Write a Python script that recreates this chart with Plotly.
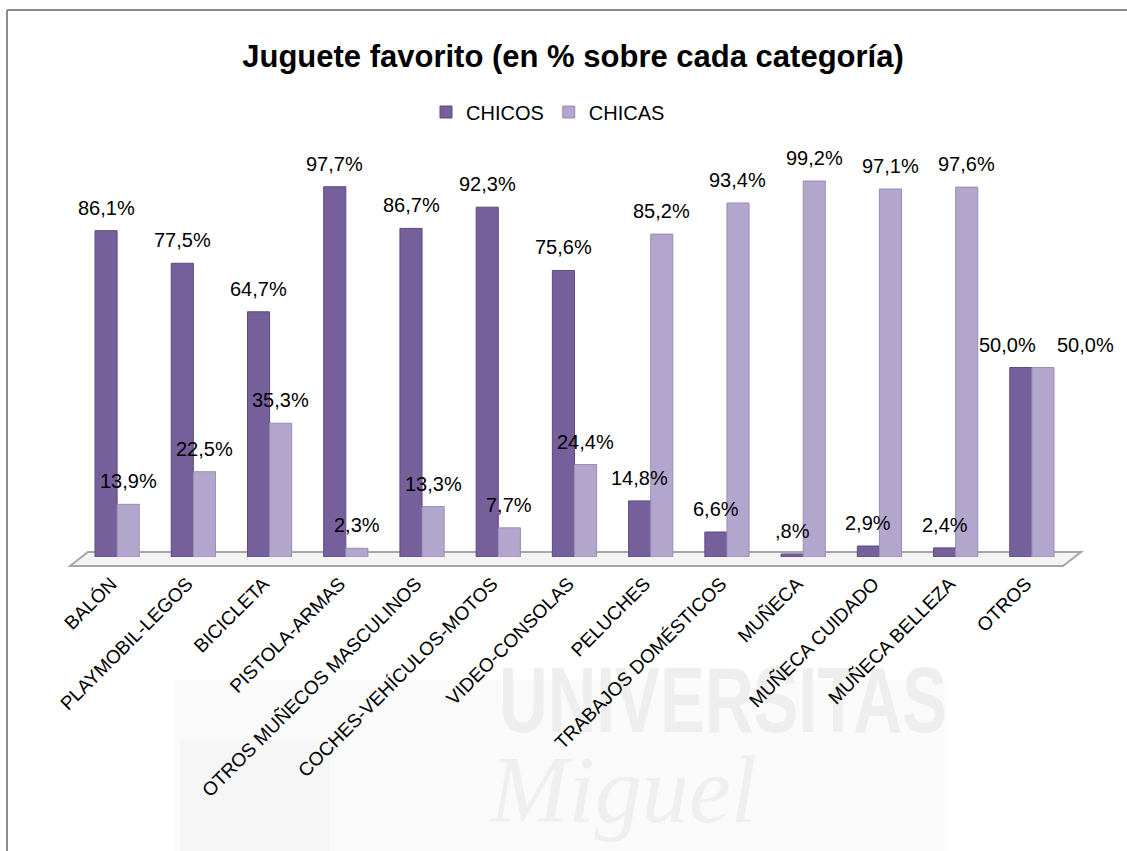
import base64
import plotly.graph_objects as go

categorias = ["BALÓN", "PLAYMOBIL-LEGOS", "BICICLETA", "PISTOLA-ARMAS",
              "OTROS MUÑECOS MASCULINOS", "COCHES-VEHÍCULOS-MOTOS", "VIDEO-CONSOLAS",
              "PELUCHES", "TRABAJOS DOMÉSTICOS", "MUÑECA", "MUÑECA CUIDADO",
              "MUÑECA BELLEZA", "OTROS"]
chicos = [86.1, 77.5, 64.7, 97.7, 86.7, 92.3, 75.6, 14.8, 6.6, 0.8, 2.9, 2.4, 50.0]
chicas = [13.9, 22.5, 35.3, 2.3, 13.3, 7.7, 24.4, 85.2, 93.4, 99.2, 97.1, 97.6, 50.0]
etiquetas_chicos = ["86,1%", "77,5%", "64,7%", "97,7%", "86,7%", "92,3%", "75,6%",
                    "14,8%", "6,6%", ",8%", "2,9%", "2,4%", "50,0%"]
etiquetas_chicas = ["13,9%", "22,5%", "35,3%", "2,3%", "13,3%", "7,7%", "24,4%",
                    "85,2%", "93,4%", "99,2%", "97,1%", "97,6%", "50,0%"]

W, H = 1127, 851
ML, MR, MT, MB = 79, 57, 178, 294
PW, PH = W - ML - MR, H - MT - MB

def px(x):
    return (x - ML) / PW

def py(y):
    return (H - MB - y) / PH

DARK = "#76609B"
LIGHT = "#B3A6CD"
LABEL_FONT = dict(family="Liberation Sans, Arial", size=20, color="#000")

fig = go.Figure()
fig.add_trace(go.Bar(name="CHICOS", x=categorias, y=chicos, marker_color=DARK,
                     marker_line=dict(color="#5E4A80", width=1)))
fig.add_trace(go.Bar(name="CHICAS", x=categorias, y=chicas, marker_color=LIGHT,
                     marker_line=dict(color="#9A8CB6", width=1)))

annotations = []
for i, (c, v, t) in enumerate(zip(categorias, chicos, etiquetas_chicos)):
    dx = -24 if i == len(categorias) - 1 else -11
    annotations.append(dict(x=c, y=v, xref="x", yref="y", text=t, showarrow=False,
                            xshift=dx, yshift=10, yanchor="bottom", font=LABEL_FONT))
for i, (c, v, t) in enumerate(zip(categorias, chicas, etiquetas_chicas)):
    dx = 54 if i == len(categorias) - 1 else 11
    annotations.append(dict(x=c, y=v, xref="x", yref="y", text=t, showarrow=False,
                            xshift=dx, yshift=10, yanchor="bottom", font=LABEL_FONT))

# faint watermark drawn below everything via an inline SVG image
svg = f'''<svg xmlns="http://www.w3.org/2000/svg" width="{W}" height="{H}">
<rect x="175" y="680" width="772" height="171" fill="#fafafa"/>
<rect x="180" y="740" width="150" height="111" fill="#f6f6f6"/>
<text x="499" y="732" textLength="448" lengthAdjust="spacingAndGlyphs" font-family="Liberation Sans" font-weight="bold" font-size="92" fill="#eeeeee">UNIVERSITAS</text>
<text x="490" y="822" textLength="267" lengthAdjust="spacingAndGlyphs" font-family="Liberation Serif" font-style="italic" font-size="96" fill="#efefef">Miguel</text>
</svg>'''
src = "data:image/svg+xml;base64," + base64.b64encode(svg.encode("utf-8")).decode("ascii")

shapes = [
    dict(type="path", xref="paper", yref="paper",
         path=f"M {px(88)} {py(552)} L {px(1081)} {py(552)} L {px(1063)} {py(566)} L {px(70)} {py(566)} Z",
         fillcolor="#F4F4F4", line=dict(color="#A6A6A6", width=2), layer="below"),
    dict(type="line", xref="paper", yref="paper", x0=px(7), x1=px(7), y0=py(10), y1=py(851),
         line=dict(color="#8C8C8C", width=2)),
    dict(type="line", xref="paper", yref="paper", x0=px(7), x1=px(1127), y0=py(10), y1=py(10),
         line=dict(color="#8C8C8C", width=2)),
]

fig.update_layout(
    width=W, height=H,
    margin=dict(l=ML, r=MR, t=MT, b=MB, autoexpand=False),
    paper_bgcolor="white", plot_bgcolor="rgba(0,0,0,0)",
    barmode="group", bargap=0.42, bargroupgap=0,
    title=dict(text="<b>Juguete favorito (en % sobre cada categoría)</b>",
               x=573 / W, y=1 - 56 / H, xanchor="center", yanchor="middle",
               font=dict(family="Liberation Sans, Arial", size=31, color="#000")),
    legend=dict(orientation="h", x=px(548), y=py(112), xanchor="center", yanchor="middle",
                font=dict(family="Liberation Sans, Arial", size=20, color="#000"),
                bgcolor="rgba(0,0,0,0)", itemwidth=30, traceorder="normal"),
    xaxis=dict(tickangle=-45, showline=False, showgrid=False, ticks="", automargin=False,
               range=[-0.5, len(categorias) - 0.5],
               tickfont=dict(family="Liberation Sans, Arial", size=19, color="#000"),
               ticklabelstandoff=11, ticklabelshift=-6),
    yaxis=dict(range=[0, 100], visible=False),
    annotations=annotations,
    shapes=shapes,
    images=[dict(source=src, xref="paper", yref="paper", x=px(0), y=py(0),
                 sizex=W / PW, sizey=H / PH, xanchor="left", yanchor="top",
                 sizing="stretch", layer="below")],
    showlegend=True,
)

fig.write_html("out.html")
